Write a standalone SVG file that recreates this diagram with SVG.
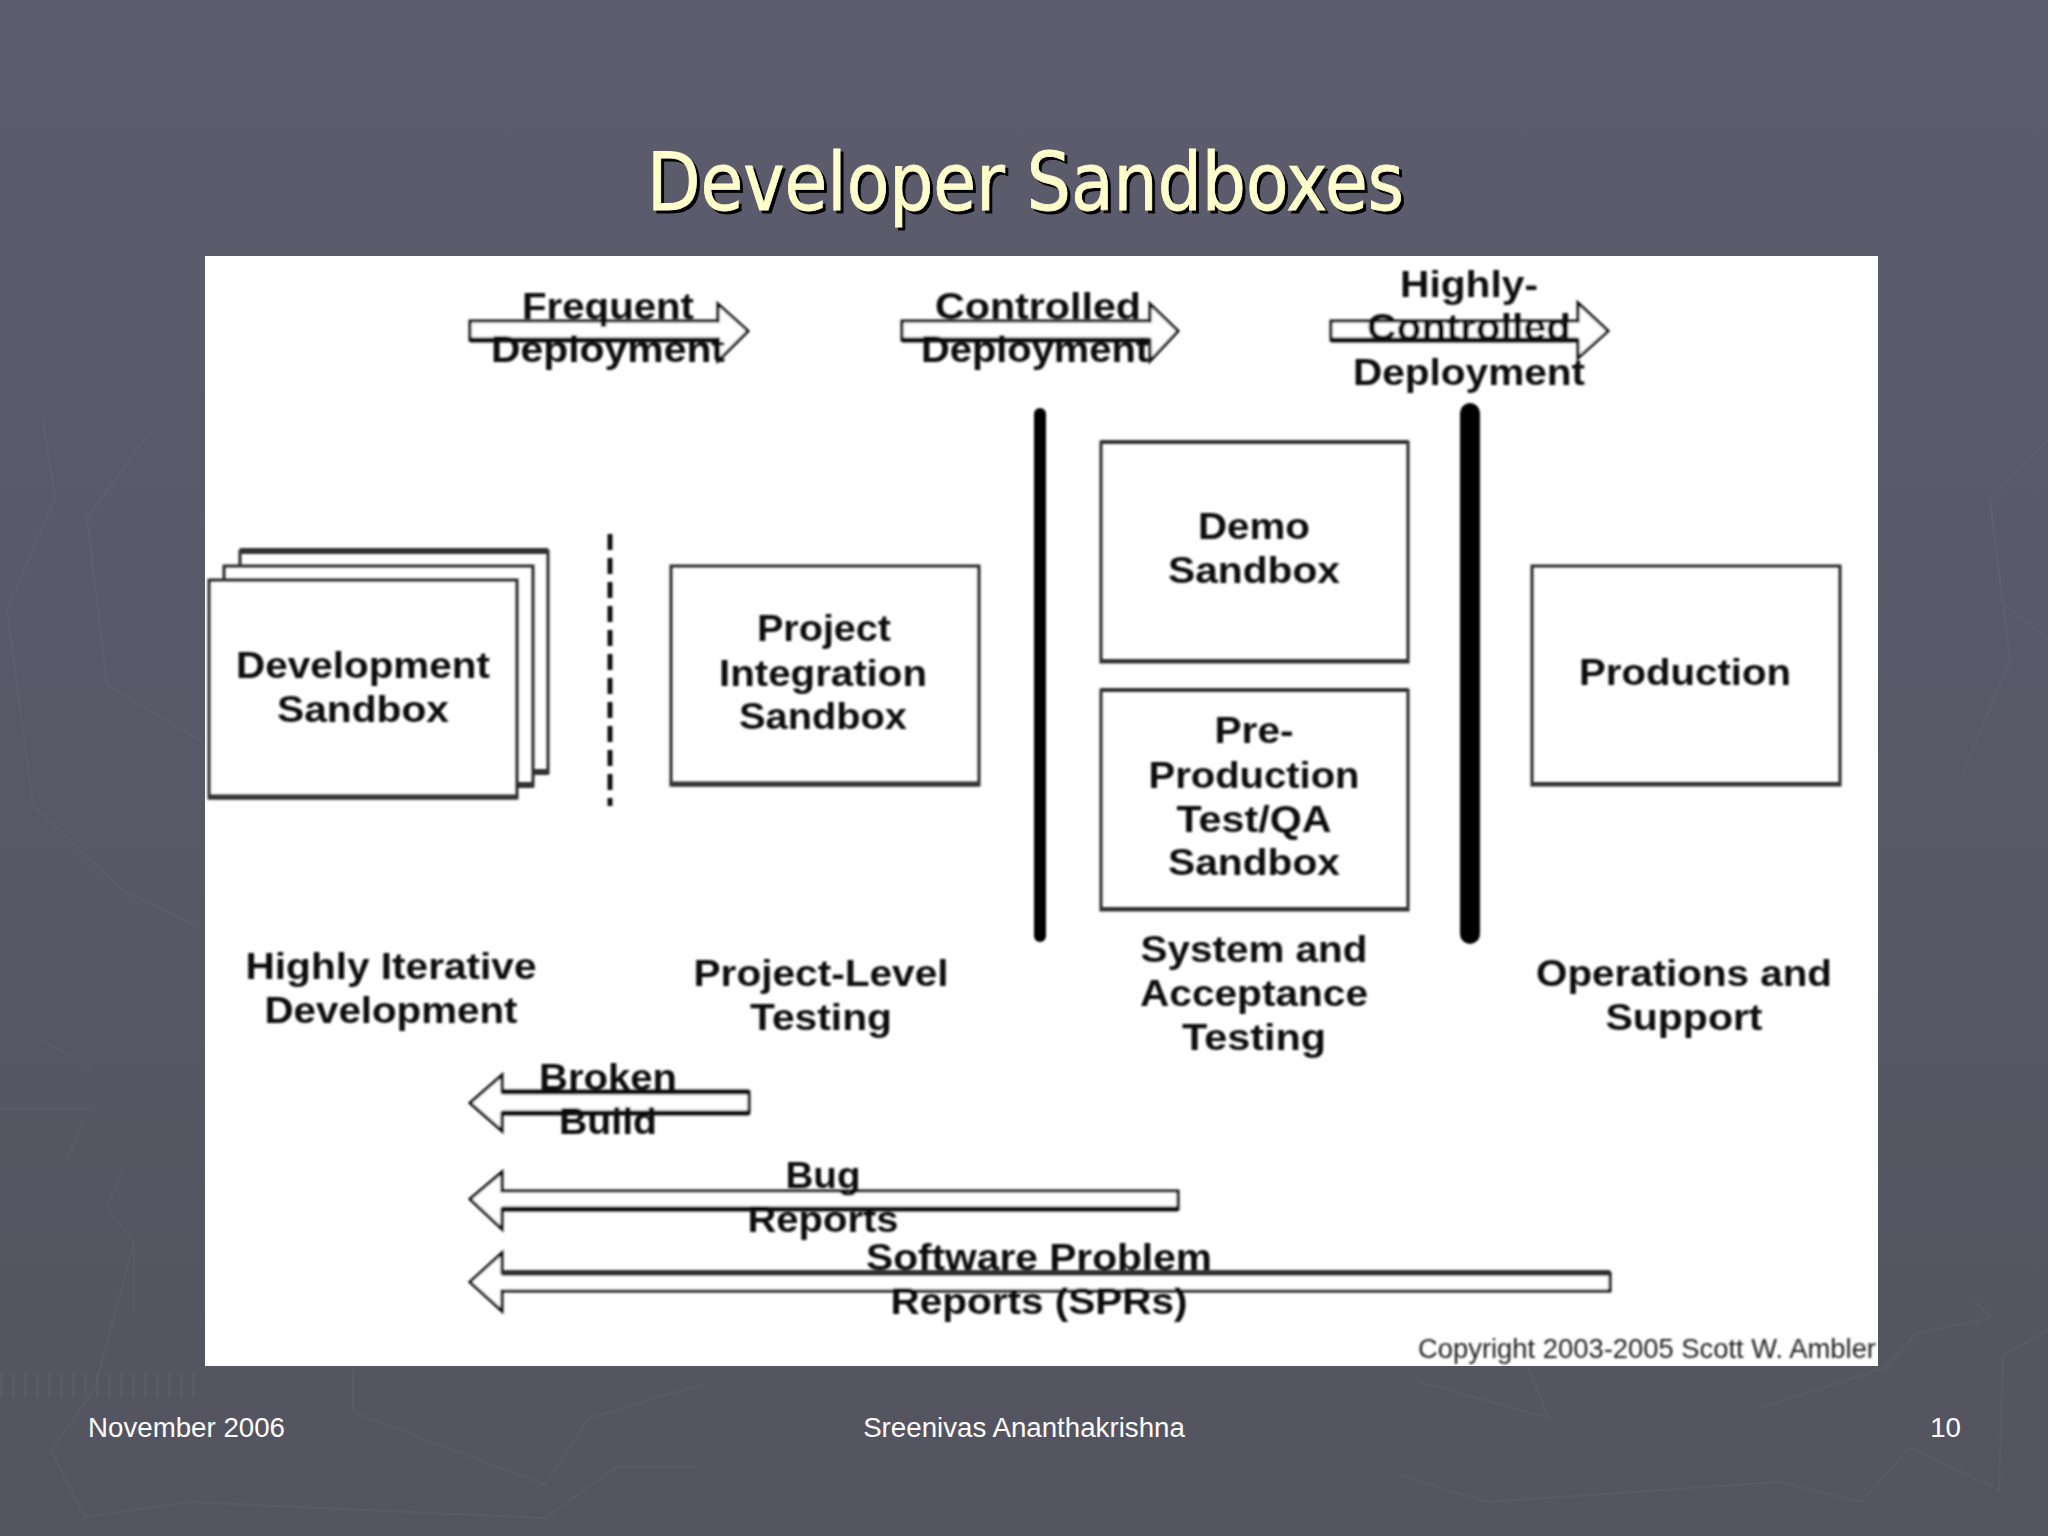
<svg xmlns="http://www.w3.org/2000/svg" width="2048" height="1536" viewBox="0 0 2048 1536">
<defs>
<linearGradient id="bg" x1="0" y1="0" x2="0" y2="1"><stop offset="0" stop-color="#5c5c6e"/><stop offset="1" stop-color="#545460"/></linearGradient>
<filter id="soft" x="-2%" y="-2%" width="104%" height="104%"><feGaussianBlur stdDeviation="0.8"/></filter>
</defs>
<style>
text{font-family:"Liberation Sans",Arial,sans-serif;text-anchor:middle}
.l{font-size:37px;font-weight:700;fill:#111;transform:translateY(1px)}
.b{fill:none;stroke:#2a2a2a;stroke-width:3}
.e{fill:none;stroke:#333;stroke-width:6}
.a{fill:#fff;stroke:#111;stroke-width:3;stroke-linejoin:miter}
.t{font-family:"DejaVu Sans",sans-serif;font-size:80px;font-stretch:condensed;stroke-width:.8;text-anchor:start}
.f{font-size:27.7px;fill:#fff}
.bg{fill:none;stroke:#fff;stroke-opacity:.035;stroke-width:2}
</style>
<rect width="2048" height="1536" fill="url(#bg)"/>
<g id="background-pattern" class="bg">
<path d="M353 1370V1412L545 1485L589 1418L700 1385M51 1450L85 1517L190 1502L545 1518L616 1467H700M51 1450L94 1390L134 1243L107 1207L123 1170M134 1243V1313"/>
<path d="M1419 1382L1549 1418L1528 1368M1762 1408L1885 1368L1917 1333L1991 1318L1974 1300M1400 1475L1487 1502L1780 1482L1861 1502L1910 1447L1999 1490L2003 1355L2048 1330"/>
<path d="M43 420L55 498L7 610L33 805L123 891L197 926M150 432L87 518L107 685L203 742M33 1035L93 1069M0 1109H93M67 1161L83 1121"/>
<path d="M0 1385H200" stroke-width="24" stroke-dasharray="3 9"/>
<path d="M2048 440L1990 500L2010 660L1960 780M2000 600L2048 640"/>
</g>
<text class="t" x="650" y="213" fill="#000" stroke="#000" textLength="757" lengthAdjust="spacingAndGlyphs">Developer Sandboxes</text>
<text class="t" id="title" x="647" y="210" fill="#ffffcc" stroke="#ffffcc" textLength="757" lengthAdjust="spacingAndGlyphs">Developer Sandboxes</text>
<rect id="panel" x="205" y="256" width="1673" height="1110" fill="#fff"/>
<g id="diagram" filter="url(#soft)">
<g id="connectors">
<path class="a" d="M470 321H718V304L748 331L718 361V340H470Z"/>
<path class="a" d="M902 321H1150V304L1178 331L1150 361V340H902Z"/>
<path class="a" d="M1331 321H1578V303L1608 331L1578 358V340H1331Z"/>
<path class="a" d="M749 1092H502V1075L470 1103L502 1131V1113H749Z"/>
<path class="a" d="M1178 1191H502V1172L470 1199L502 1229V1209H1178Z"/>
<path class="a" d="M1610 1273H502V1253L470 1282L502 1311V1291H1610Z"/>
<path d="M470 340H718M902 340H1150M1331 340H1578M502 1092H749M502 1113H749M502 1209H1178" stroke="#111" stroke-width="5"/>
<path d="M502 1273H1610" stroke="#333" stroke-width="6"/>
<path d="M610 534V806" stroke="#111" stroke-width="5" stroke-dasharray="16 8"/>
<path d="M1040 414V936" stroke="#000" stroke-width="12" stroke-linecap="round"/>
<path d="M1470 413V934" stroke="#000" stroke-width="20" stroke-linecap="round"/>
</g>
<g id="development-sandbox">
<path class="b" d="M240 566V551H548V773H533"/><path class="e" d="M533 772H548M240 551H548"/>
<path class="b" d="M224 580V566H533V786H517"/><path class="e" d="M517 785H533"/>
<rect class="b" x="209" y="580" width="308" height="218"/><path class="e" d="M209 797H517" style="stroke-width:5"/>
<text class="l" lengthAdjust="spacingAndGlyphs" x="363" y="677" textLength="254">Development</text>
<text class="l" lengthAdjust="spacingAndGlyphs" x="363" y="721" textLength="172">Sandbox</text>
</g>
<g id="project-integration-sandbox">
<rect class="b" x="671" y="566" width="308" height="219"/><path class="e" d="M671 784H979" style="stroke-width:5"/>
<text class="l" lengthAdjust="spacingAndGlyphs" x="824" y="640" textLength="134">Project</text>
<text class="l" lengthAdjust="spacingAndGlyphs" x="823" y="685" textLength="208">Integration</text>
<text class="l" lengthAdjust="spacingAndGlyphs" x="823" y="728" textLength="168">Sandbox</text>
</g>
<g id="demo-sandbox">
<rect class="b" x="1101" y="442" width="307" height="220"/><path class="e" d="M1101 661H1408M1101 442H1408" style="stroke-width:4"/>
<text class="l" lengthAdjust="spacingAndGlyphs" x="1254" y="538" textLength="112">Demo</text>
<text class="l" lengthAdjust="spacingAndGlyphs" x="1254" y="582" textLength="172">Sandbox</text>
</g>
<g id="pre-production-sandbox">
<rect class="b" x="1101" y="690" width="307" height="220"/><path class="e" d="M1101 909H1408M1101 690H1408" style="stroke-width:4"/>
<text class="l" lengthAdjust="spacingAndGlyphs" x="1254" y="742" textLength="79">Pre-</text>
<text class="l" lengthAdjust="spacingAndGlyphs" x="1254" y="787" textLength="211">Production</text>
<text class="l" lengthAdjust="spacingAndGlyphs" x="1254" y="831" textLength="155">Test/QA</text>
<text class="l" lengthAdjust="spacingAndGlyphs" x="1254" y="874" textLength="172">Sandbox</text>
</g>
<g id="production">
<rect class="b" x="1532" y="566" width="308" height="219"/><path class="e" d="M1532 784H1840" style="stroke-width:4"/>
<text class="l" lengthAdjust="spacingAndGlyphs" x="1685" y="684" textLength="212">Production</text>
</g>
<g id="labels">
<text class="l" lengthAdjust="spacingAndGlyphs" x="608" y="318" textLength="172">Frequent</text>
<text class="l" lengthAdjust="spacingAndGlyphs" x="608" y="361" textLength="234">Deployment</text>
<text class="l" lengthAdjust="spacingAndGlyphs" x="1038" y="318" textLength="206">Controlled</text>
<text class="l" lengthAdjust="spacingAndGlyphs" x="1035" y="361" textLength="228">Deployment</text>
<text class="l" lengthAdjust="spacingAndGlyphs" x="1469" y="296" textLength="138">Highly-</text>
<text class="l" lengthAdjust="spacingAndGlyphs" x="1469" y="339" textLength="204">Controlled</text>
<text class="l" lengthAdjust="spacingAndGlyphs" x="1469" y="384" textLength="232">Deployment</text>
<text class="l" lengthAdjust="spacingAndGlyphs" x="391" y="978" textLength="291">Highly Iterative</text>
<text class="l" lengthAdjust="spacingAndGlyphs" x="391" y="1022" textLength="253">Development</text>
<text class="l" lengthAdjust="spacingAndGlyphs" x="821" y="985" textLength="255">Project-Level</text>
<text class="l" lengthAdjust="spacingAndGlyphs" x="821" y="1029" textLength="142">Testing</text>
<text class="l" lengthAdjust="spacingAndGlyphs" x="1254" y="961" textLength="227">System and</text>
<text class="l" lengthAdjust="spacingAndGlyphs" x="1254" y="1005" textLength="228">Acceptance</text>
<text class="l" lengthAdjust="spacingAndGlyphs" x="1254" y="1049" textLength="144">Testing</text>
<text class="l" lengthAdjust="spacingAndGlyphs" x="1684" y="985" textLength="296">Operations and</text>
<text class="l" lengthAdjust="spacingAndGlyphs" x="1684" y="1029" textLength="157">Support</text>
<text class="l" lengthAdjust="spacingAndGlyphs" x="608" y="1089" textLength="138">Broken</text>
<text class="l" lengthAdjust="spacingAndGlyphs" x="608" y="1133" textLength="98">Build</text>
<text class="l" lengthAdjust="spacingAndGlyphs" x="823" y="1187" textLength="75">Bug</text>
<text class="l" lengthAdjust="spacingAndGlyphs" x="823" y="1231" textLength="151">Reports</text>
<text class="l" lengthAdjust="spacingAndGlyphs" x="1039" y="1269" textLength="346">Software Problem</text>
<text class="l" lengthAdjust="spacingAndGlyphs" x="1039" y="1313" textLength="297">Reports (SPRs)</text>
<text x="1647" y="1358" font-size="27" fill="#222" textLength="458" lengthAdjust="spacingAndGlyphs">Copyright 2003-2005 Scott W. Ambler</text>
</g>
</g>
<g id="footer">
<text class="f" x="88" y="1437" style="text-anchor:start">November 2006</text>
<text class="f" x="1024" y="1437">Sreenivas Ananthakrishna</text>
<text class="f" x="1961" y="1437" style="text-anchor:end">10</text>
</g>
</svg>
